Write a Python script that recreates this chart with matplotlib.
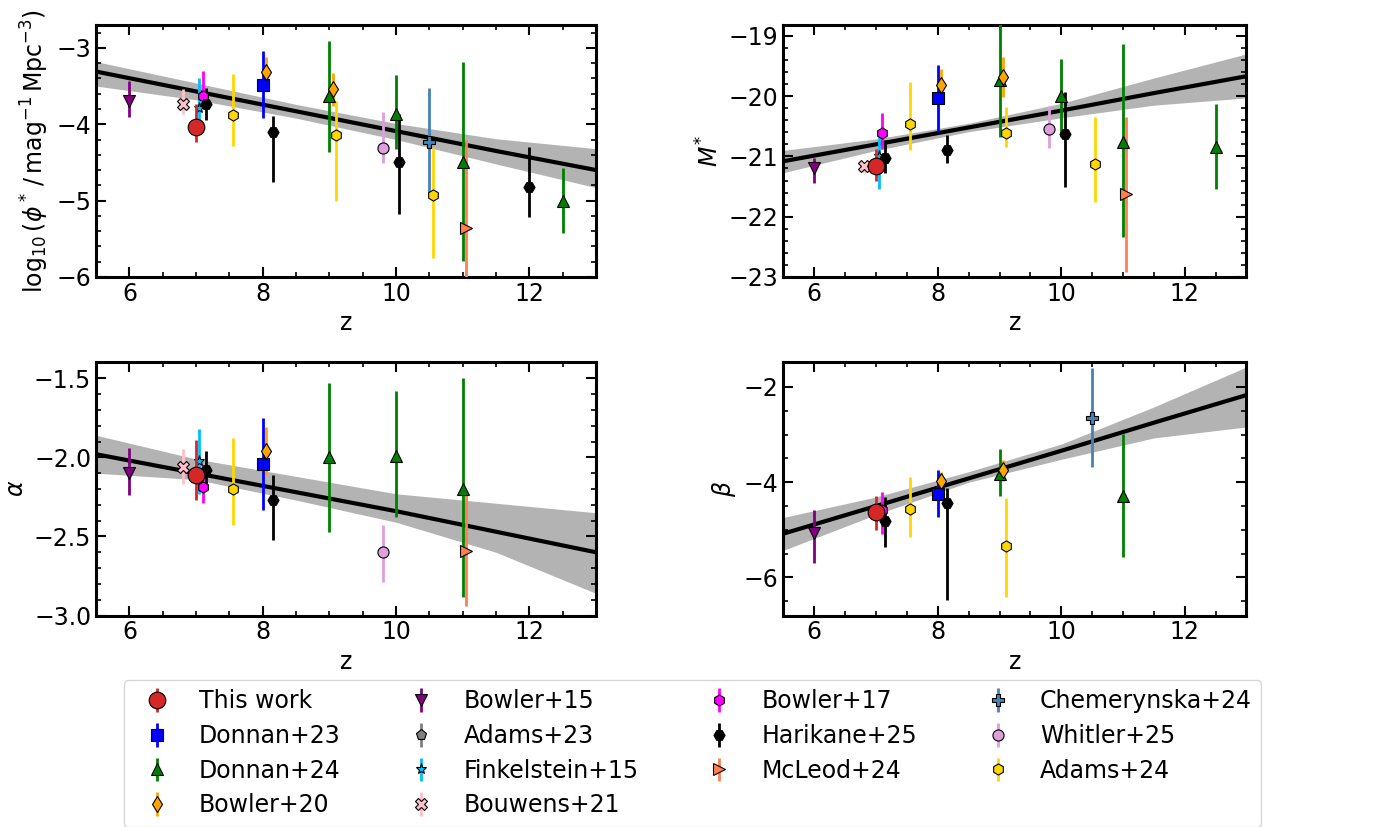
import matplotlib.pyplot as plt
from matplotlib.ticker import MultipleLocator

# legend order
labels = ['This work', 'Donnan+23', 'Donnan+24', 'Bowler+20', 'Bowler+15', 'Adams+23',
          'Finkelstein+15', 'Bouwens+21', 'Bowler+17', 'Harikane+25', 'McLeod+24',
          'Chemerynska+24', 'Whitler+25', 'Adams+24']

# log10 phi*
phi_src = ['Bowler+15', 'Bouwens+21', 'This work', 'Finkelstein+15', 'Bowler+17', 'Harikane+25',
           'Adams+24', 'Donnan+23', 'Bowler+20', 'Harikane+25', 'Donnan+24', 'Bowler+20',
           'Adams+24', 'Whitler+25', 'Donnan+24', 'Harikane+25', 'Chemerynska+24', 'Adams+24',
           'Donnan+24', 'McLeod+24', 'Harikane+25', 'Donnan+24']
phi_z = [6.0, 6.8, 7.0, 7.05, 7.1, 7.15, 7.55, 8.0, 8.05, 8.15, 9.0, 9.06,
         9.1, 9.8, 10.0, 10.05, 10.5, 10.55, 11.0, 11.05, 12.0, 12.5]
phi_val = [-3.70, -3.73, -4.04, -3.79, -3.63, -3.73, -3.88, -3.48, -3.31, -4.10, -3.63, -3.54,
           -4.14, -4.31, -3.86, -4.50, -4.23, -4.93, -4.49, -5.36, -4.82, -5.01]
phi_lo = [-3.90, -3.86, -4.23, -3.94, -3.78, -3.95, -4.29, -3.92, -3.40, -4.75, -4.36, -3.76,
          -5.01, -4.51, -4.33, -5.18, -4.90, -5.75, -5.79, -6.30, -5.21, -5.43]
phi_hi = [-3.44, -3.54, -3.73, -3.40, -3.30, -3.52, -3.34, -3.04, -3.12, -3.89, -2.91, -3.33,
          -3.70, -3.84, -3.36, -3.86, -3.52, -4.31, -3.18, -4.21, -4.30, -4.57]

# M*
mst_src = ['Bowler+15', 'Bouwens+21', 'This work', 'Finkelstein+15', 'Bowler+17', 'Harikane+25',
           'Adams+24', 'Donnan+23', 'Bowler+20', 'Harikane+25', 'Donnan+24', 'Bowler+20',
           'Adams+24', 'Whitler+25', 'Donnan+24', 'Harikane+25', 'Adams+24', 'Donnan+24',
           'McLeod+24', 'Donnan+24']
mst_z = [6.0, 6.8, 7.0, 7.05, 7.1, 7.15, 7.55, 8.0, 8.05, 8.15, 9.0, 9.05,
         9.1, 9.8, 10.0, 10.06, 10.55, 11.0, 11.05, 12.5]
mst_val = [-21.20, -21.16, -21.16, -21.00, -20.61, -21.02, -20.46, -20.03, -19.81, -20.89,
           -19.73, -19.68, -20.62, -20.55, -20.00, -20.63, -21.12, -20.76, -21.63, -20.84]
mst_lo = [-21.44, -21.27, -21.40, -21.54, -20.87, -21.28, -20.89, -20.59, -20.05, -21.11,
          -20.67, -20.01, -20.85, -20.86, -20.67, -21.51, -21.75, -22.34, -22.92, -21.54]
mst_hi = [-21.03, -21.09, -20.88, -20.67, -20.28, -20.73, -19.76, -19.48, -19.55, -20.64,
          -18.50, -19.35, -20.18, -20.16, -19.39, -19.93, -20.34, -19.13, -20.35, -20.13]

# alpha
alp_src = ['Bowler+15', 'Bouwens+21', 'This work', 'Finkelstein+15', 'Bowler+17', 'Harikane+25',
           'Adams+24', 'Donnan+23', 'Bowler+20', 'Harikane+25', 'Donnan+24', 'Whitler+25',
           'Donnan+24', 'Donnan+24', 'McLeod+24']
alp_z = [6.0, 6.8, 7.0, 7.05, 7.1, 7.15, 7.55, 8.0, 8.05, 8.15, 9.0, 9.8, 10.0, 11.0, 11.05]
alp_val = [-2.10, -2.06, -2.11, -2.02, -2.19, -2.08, -2.20, -2.04, -1.96, -2.27,
           -2.00, -2.60, -1.99, -2.20, -2.59]
alp_lo = [-2.24, -2.17, -2.27, -2.23, -2.29, -2.20, -2.43, -2.33, -2.11, -2.52,
          -2.47, -2.79, -2.38, -2.88, -2.94]
alp_hi = [-1.94, -1.95, -1.89, -1.82, -2.05, -1.96, -1.88, -1.75, -1.81, -2.11,
          -1.53, -2.43, -1.58, -1.50, -2.24]

# beta
bet_src = ['Bowler+15', 'This work', 'Bowler+17', 'Harikane+25', 'Adams+24', 'Donnan+23',
           'Bowler+20', 'Harikane+25', 'Donnan+24', 'Bowler+20', 'Adams+24', 'Chemerynska+24',
           'Donnan+24']
bet_z = [6.0, 7.0, 7.1, 7.15, 7.55, 8.0, 8.05, 8.15, 9.0, 9.05, 9.1, 10.5, 11.0]
bet_val = [-5.07, -4.63, -4.59, -4.82, -4.56, -4.25, -3.97, -4.44, -3.83, -3.74, -5.35, -2.65, -4.29]
bet_lo = [-5.70, -5.01, -5.09, -5.36, -5.16, -4.74, -4.16, -6.48, -4.29, -3.97, -6.42, -3.68, -5.58]
bet_hi = [-4.59, -4.29, -4.21, -4.31, -3.89, -3.75, -3.79, -4.13, -3.31, -3.53, -4.34, -1.61, -2.99]

# fitted relations and their uncertainty bands
fit_z = [5.5, 7.0, 8.5, 10.0, 11.5, 13.0]
phi_fit = [-3.31, -3.57, -3.83, -4.09, -4.35, -4.60]
phi_fit_lo = [-3.50, -3.68, -3.92, -4.20, -4.52, -4.83]
phi_fit_hi = [-3.18, -3.46, -3.74, -3.99, -4.19, -4.32]
mst_fit = [-21.08, -20.80, -20.52, -20.24, -19.95, -19.67]
mst_fit_lo = [-21.27, -20.90, -20.59, -20.36, -20.15, -20.03]
mst_fit_hi = [-20.90, -20.71, -20.45, -20.12, -19.70, -19.30]
alp_fit = [-1.98, -2.10, -2.22, -2.34, -2.47, -2.60]
alp_fit_lo = [-2.10, -2.14, -2.27, -2.41, -2.60, -2.86]
alp_fit_hi = [-1.86, -2.01, -2.12, -2.23, -2.29, -2.35]
bet_fit = [-5.08, -4.50, -3.92, -3.34, -2.75, -2.17]
bet_fit_lo = [-5.43, -4.68, -4.00, -3.52, -3.07, -2.84]
bet_fit_hi = [-4.74, -4.31, -3.78, -3.20, -2.42, -1.58]

style = {
    'This work': ('#d62728', 'o'),
    'Donnan+23': ('blue', 's'),
    'Donnan+24': ('green', '^'),
    'Bowler+20': ('orange', 'd'),
    'Bowler+15': ('purple', 'v'),
    'Adams+23': ('gray', 'p'),
    'Finkelstein+15': ('deepskyblue', '*'),
    'Bouwens+21': ('pink', 'X'),
    'Bowler+17': ('magenta', 'h'),
    'Harikane+25': ('black', 'H'),
    'McLeod+24': ('coral', '>'),
    'Chemerynska+24': ('steelblue', 'P'),
    'Whitler+25': ('plum', 'o'),
    'Adams+24': ('gold', 'h'),
}

FS = 17
fig = plt.figure(figsize=(13.74, 8.27), dpi=100)
ax1 = fig.add_axes([0.0699, 0.6651, 0.3639, 0.3047])
ax2 = fig.add_axes([0.5702, 0.6651, 0.3370, 0.3047])
ax3 = fig.add_axes([0.0699, 0.2557, 0.3639, 0.3069])
ax4 = fig.add_axes([0.5702, 0.2557, 0.3370, 0.3069])

panels = [
    (ax1, phi_src, phi_z, phi_val, phi_lo, phi_hi, phi_fit, phi_fit_lo, phi_fit_hi,
     (-6, -2.7), r'$\log_{10}(\phi^*\,/\,\mathrm{mag}^{-1}\,\mathrm{Mpc}^{-3})$'),
    (ax2, mst_src, mst_z, mst_val, mst_lo, mst_hi, mst_fit, mst_fit_lo, mst_fit_hi,
     (-23, -18.82), r'$M^{*}$'),
    (ax3, alp_src, alp_z, alp_val, alp_lo, alp_hi, alp_fit, alp_fit_lo, alp_fit_hi,
     (-3.0, -1.395), r'$\alpha$'),
    (ax4, bet_src, bet_z, bet_val, bet_lo, bet_hi, bet_fit, bet_fit_lo, bet_fit_hi,
     (-6.8, -1.47), r'$\beta$'),
]

handles = {}
for ax, src, z, val, lo, hi, fit, flo, fhi, ylim, ylab in panels:
    ax.fill_between(fit_z, flo, fhi, color='0.7', lw=0, zorder=1)
    ax.plot(fit_z, fit, color='black', lw=3, zorder=2)
    for lab in labels:
        idx = [i for i, s in enumerate(src) if s == lab]
        if not idx:
            continue
        c, m = style[lab]
        zz = [z[i] for i in idx]
        vv = [val[i] for i in idx]
        err = [[val[i] - lo[i] for i in idx], [hi[i] - val[i] for i in idx]]
        big = lab == 'This work'
        h = ax.errorbar(zz, vv, yerr=err, fmt=m, color=c, ecolor=c, mec='black', mew=0.8,
                        ms=12 if big else 8, elinewidth=2, capsize=0,
                        zorder=6 if big else 3, label=lab)
        handles.setdefault(lab, h)
    ax.set_xlim(5.5, 13)
    ax.set_ylim(*ylim)
    ax.set_xlabel('z', fontsize=FS)
    ax.set_ylabel(ylab, fontsize=FS)
    ax.minorticks_on()
    ax.tick_params(which='both', direction='in', top=True, right=True, labelsize=FS)
    ax.tick_params(which='major', length=7, width=1.5)
    ax.tick_params(which='minor', length=3.5, width=1.2)
    for sp in ax.spines.values():
        sp.set_linewidth(2.2)

ax4.yaxis.set_major_locator(MultipleLocator(2))

c, m = style['Adams+23']
handles['Adams+23'] = ax1.errorbar([], [], yerr=[], fmt=m, color=c, ecolor=c, mec='black',
                                   mew=0.8, ms=8, elinewidth=2, label='Adams+23')

fig.legend([handles[l] for l in labels], labels, loc='upper center',
           bbox_to_anchor=(0.504, 0.192), ncol=4, fontsize=FS, columnspacing=2.4,
           labelspacing=0.45)

fig.savefig('out.png', dpi=100)
